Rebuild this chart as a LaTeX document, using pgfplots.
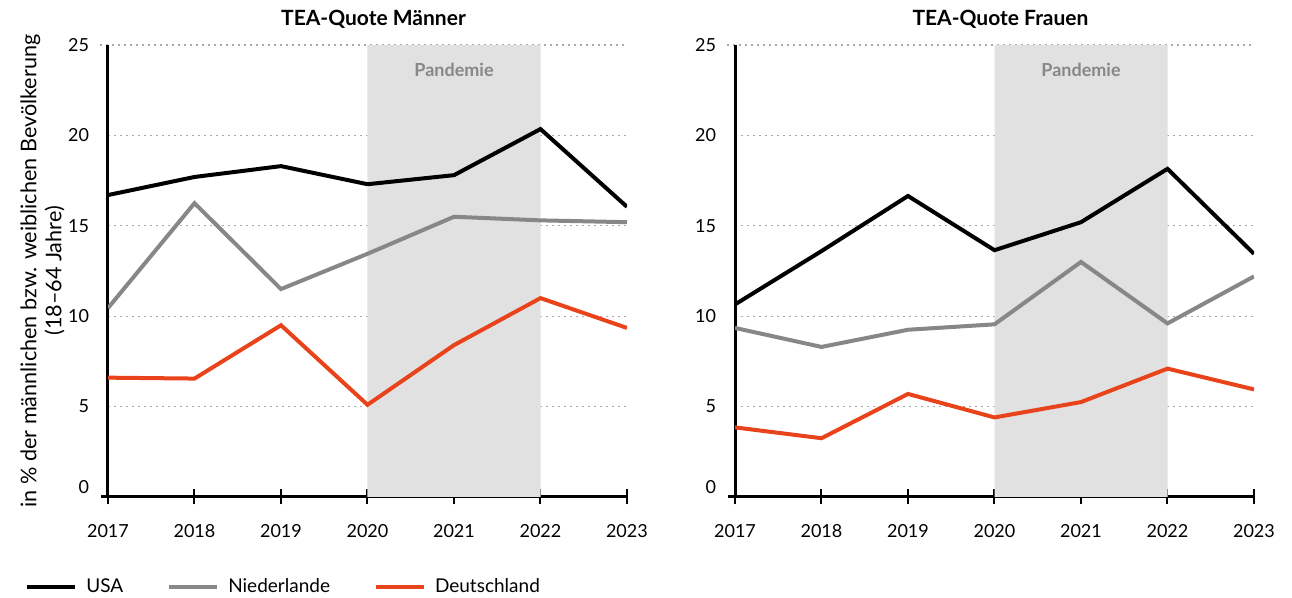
\documentclass[border=0pt]{standalone}
\usepackage{fontspec}
\setmainfont{Lato}
\usepackage{pgfplots}
\pgfplotsset{compat=1.18}
\usepackage{pgfplotstable}
\usetikzlibrary{calc}

\definecolor{deorange}{HTML}{E8431B}
\definecolor{nlgray}{HTML}{878787}
\definecolor{bandgray}{HTML}{E1E1E1}
\definecolor{gridgray}{HTML}{A8A8A8}

% year, USA, Niederlande, Deutschland
\pgfplotstableread{
year usa nl de
2017 16.7 10.45 6.6
2018 17.7 16.25 6.55
2019 18.3 11.5 9.5
2020 17.3 13.45 5.1
2021 17.8 15.5 8.4
2022 20.35 15.3 11.0
2023 16.05 15.2 9.35
}\maenner

\pgfplotstableread{
year usa nl de
2017 10.65 9.35 3.85
2018 13.6 8.3 3.25
2019 16.65 9.25 5.7
2020 13.65 9.55 4.4
2021 15.2 13.0 5.25
2022 18.15 9.6 7.1
2023 13.45 12.2 5.95
}\frauen

\pgfplotsset{
  every axis title shift=0pt,
  tea/.style={
    scale only axis,
    width=259.5pt, height=226pt,
    xmin=2017, xmax=2023, ymin=0, ymax=25,
    axis lines=left,
    axis line style={-, line width=1.5pt},
    x axis line style={shorten <=-3.5pt},
    xtick={2017,...,2023},
    ytick={5,10,...,25},
    extra y ticks={0},
    extra y tick style={grid=none, yticklabel style={yshift=5pt}},
    xticklabel style={/pgf/number format/1000 sep={}, anchor=base, yshift=-16.5pt},
    yticklabel style={anchor=east, inner sep=0pt, xshift=-5.5pt},
    /pgf/number format/assume math mode=true,
    ticklabel style={font=\fontsize{9}{11}\selectfont},
    xtick align=center,
    major tick length=7.5pt,
    x tick style={black, line width=1pt},
    y tick style={draw=none},
    ymajorgrids,
    major grid style={gridgray, line width=0.6pt, dash pattern=on 1.2pt off 1.8pt, shorten <=-4pt},
    title style={font=\bfseries\fontsize{10.5}{12}\selectfont, anchor=base, at={(0.5,1)}, yshift=9.5pt, xshift=3pt},
    every axis plot/.append style={line width=2pt},
  },
}

\begin{document}
\begin{tikzpicture}
\path[use as bounding box] (-54pt,-50.5pt) rectangle (592pt,248.5pt);

\begin{axis}[tea,
  at={(0,0)}, anchor=south west,
  title={TEA-Quote Männer},
  ylabel={in \% der männlichen bzw. weiblichen Bevölkerung\\(18–64 Jahre)},
  ylabel style={align=center, font=\fontsize{10.8}{12.5}\selectfont,
    at={($(rel axis cs:0,0.5)+(-32.75pt,0)$)}, anchor=center},
  legend style={at={(0,0)}, anchor=west, xshift=-41.5pt, yshift=-45pt,
    draw=none, fill=none, inner sep=0pt, font=\fontsize{9.5}{11}\selectfont,
    legend columns=-1,
    /tikz/every odd column/.append style={column sep=2.5pt},
    /tikz/every even column/.append style={column sep=20pt}},
  legend image code/.code={\draw[#1] (0pt,0pt) -- (24pt,0pt);},
]
\addplot[fill=bandgray, draw=none, line width=0pt, forget plot]
  coordinates {(2020,0) (2020,25) (2022,25) (2022,0)} \closedcycle;
\node[font=\bfseries\fontsize{9}{11}\selectfont, text=nlgray] at (axis cs:2021,23.6) {Pandemie};
\addplot[black] table[x=year, y=usa] {\maenner};
\addlegendentry{USA}
\addplot[nlgray] table[x=year, y=nl] {\maenner};
\addlegendentry{Niederlande}
\addplot[deorange] table[x=year, y=de] {\maenner};
\addlegendentry{Deutschland}
\end{axis}

\begin{axis}[tea,
  at={(313.5pt,0)}, anchor=south west,
  title={TEA-Quote Frauen},
]
\addplot[fill=bandgray, draw=none, line width=0pt, forget plot]
  coordinates {(2020,0) (2020,25) (2022,25) (2022,0)} \closedcycle;
\node[font=\bfseries\fontsize{9}{11}\selectfont, text=nlgray] at (axis cs:2021,23.6) {Pandemie};
\addplot[black] table[x=year, y=usa] {\frauen};
\addplot[nlgray] table[x=year, y=nl] {\frauen};
\addplot[deorange] table[x=year, y=de] {\frauen};
\end{axis}
\end{tikzpicture}
\end{document}
